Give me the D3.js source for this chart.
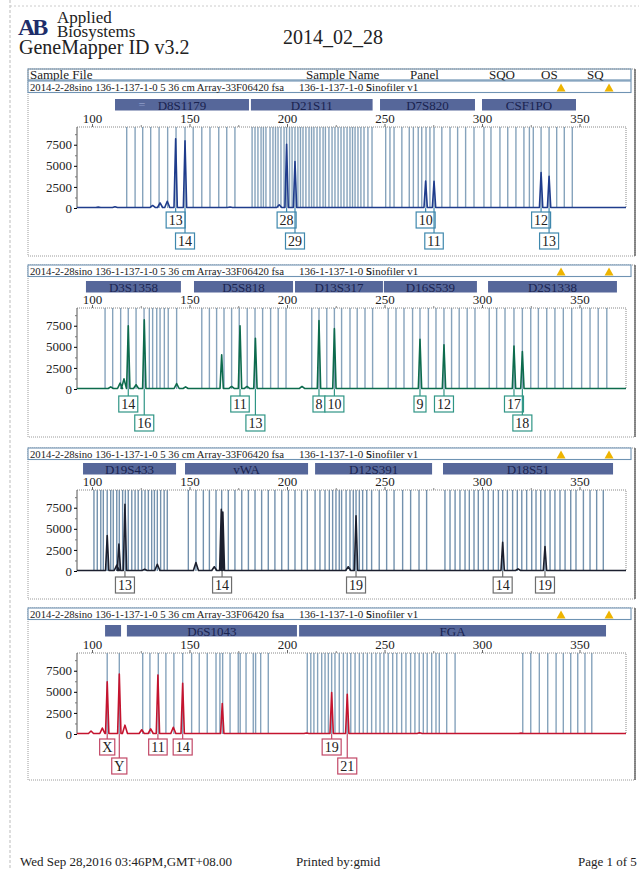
<!DOCTYPE html>
<html>
<head>
<meta charset="utf-8">
<script src="https://cdn.jsdelivr.net/npm/d3@7"></script>
<style>
  body { margin: 0; background: #fff; }
  svg text { font-family: "Liberation Serif", "DejaVu Serif", serif; }
</style>
</head>
<body>
<svg id="page" width="639" height="870"></svg>
<script>
// ---- data ----
var xTicks = [100, 150, 200, 250, 300, 350];
var xMinor = [125, 175, 225, 275, 325];
var yTicks = [0, 2500, 5000, 7500];
var yMinor = [1250, 3750, 6250, 8750];

var headerCols = ["Sample File", "Sample Name", "Panel", "SQO", "OS", "SQ"];
var sampleFile = "2014-2-28sino 136-1-137-1-0 5 36 cm Array-33F06420 fsa";
var sampleName = "136-1-137-1-0 5";
var panelName = "Sinofiler v1";

// panel 1 (blue)
var p1Loci = ["D8S1179", "D21S11", "D7S820", "CSF1PO"];
var p1Ranges = [[111.8, 180.5], [181.5, 243.9], [247.7, 296.4], [300.0, 348.2]];
var p1Bins = [117.8,122.1,126.0,130.1,134.4,138.8,143.1,147.7,151.9,156.3,160.5,165.0,169.1,173.3,
  182.1,183.6,185.1,186.7,187.9,189.2,191.3,192.8,194.1,195.4,196.9,198.5,199.8,201.3,202.6,204.1,205.6,206.9,
  208.2,209.7,211.3,212.6,213.8,215.4,216.9,218.5,219.7,221.5,223.1,224.6,226.2,227.7,229.2,230.8,232.3,233.6,
  234.9,236.4,237.9,239.5,241.5,243.6,
  250.6,252.8,254.9,258.9,262.7,264.8,267.3,269.1,271.3,273.3,275.4,279.4,283.6,287.5,291.6,295.9,
  301.0,304.6,309.2,313.2,317.4,321.5,324.3,326.3,330.3,334.4,338.3,342.2,346.3];
var p1Peaks = [[103.2,100],[111.8,150],[131.1,300],[134.9,600],[138.6,800],[142.9,8200],[147.7,7950],
  [170.8,120],[196.0,380],[199.8,7550],[204.1,5500],[271.1,3200],[275.4,3150],[330.3,4200],[334.4,3750]];
var p1Calls = [["13",142.9,1],["14",147.7,2],["28",199.8,1],["29",204.1,2],["10",271.1,1],["11",275.4,2],["12",330.3,1],["13",334.4,2]];

// panel 2 (green)
var p2Loci = ["D3S1358", "D5S818", "D13S317", "D16S539", "D2S1338"];
var p2Ranges = [[96.9, 145.6], [152.3, 203.1], [204.1, 249.2], [249.7, 297.4], [303.1, 369.2]];
var p2Bins = [106.7,110.6,114.7,118.6,122.6,126.7,129.4,131.1,133.2,134.9,137.1,139.1,143.4,
  156.3,160.2,163.9,167.7,171.6,175.5,179.6,183.6,187.5,191.6,195.5,199.5,
  212.7,216.4,220.4,224.3,228.0,232.3,236.0,240.0,243.9,
  251.9,255.9,260.0,264.4,268.2,272.5,276.4,280.5,284.4,288.3,292.4,296.4,
  303.7,307.5,311.8,316.4,320.7,325.0,328.9,333.2,337.4,341.7,346.0,351.1,355.4,359.6,364.0];
var p2Peaks = [[109.6,250],[114.4,700],[116.4,1200],[118.6,7500],[122.6,500],[126.8,8200],[143.4,650],[148.0,250],
  [166.5,4050],[171.6,300],[175.9,7500],[179.5,300],[183.8,6000],[207.7,300],[216.4,8100],[224.3,7150],
  [268.2,5900],[280.5,5250],[316.4,5100],[320.7,4450]];
var p2Calls = [["14",118.6,1],["16",126.8,2],["11",175.9,1],["13",183.8,2],["8",216.4,1],["10",224.3,1],["9",268.2,1],["12",280.5,1],["17",316.4,1],["18",320.7,2]];

// panel 3 (black)
var p3Loci = ["D19S433", "vWA", "D12S391", "D18S51"];
var p3Ranges = [[95.4, 143.1], [147.7, 210.8], [214.4, 274.4], [280.0, 367.2]];
var p3Bins = [101.0,102.7,104.5,105.8,107.8,109.6,110.9,112.7,114.0,115.7,117.1,118.6,120.4,122.1,123.7,125.5,127.2,128.9,130.6,132.0,133.5,135.2,137.0,138.6,
  149.4,153.3,157.1,160.2,163.6,166.5,169.9,173.3,176.8,180.2,183.6,187.0,190.4,193.8,197.3,200.7,204.1,207.5,210.4,
  214.4,216.9,219.5,221.7,223.4,225.1,226.8,228.0,230.3,232.3,234.0,235.4,237.1,238.8,240.9,243.4,247.3,251.1,254.9,259.3,263.4,267.7,271.6,
  281.0,283.6,286.2,288.7,291.3,293.5,295.9,298.1,300.7,303.2,305.8,308.4,310.6,313.0,315.7,318.1,320.4,322.9,325.5,327.7,330.1,332.3,
  334.9,337.4,340.0,342.6,345.5,348.2,352.0,355.4,358.8,362.2];
var p3Peaks = [[107.8,4200],[112.7,700],[113.8,3200],[116.9,7900],[127.0,200],[133.5,800],[153.3,1000],[162.7,500],
  [166.3,7300],[167.1,7000],[231.4,500],[235.4,6550],[310.6,3400],[318.5,250],[332.3,2900]];
var p3Calls = [["13",116.9,1],["14",166.7,1],["19",235.4,1],["14",310.6,1],["19",332.3,1]];

// panel 4 (red)
var p4Loci = ["", "D6S1043", "FGA"];
var p4Ranges = [[106.7, 114.9], [117.9, 205.1], [206.2, 363.6]];
var p4Bins = [107.8,114.0,
  126.0,129.7,134.0,137.9,142.0,146.5,151.1,155.0,159.1,163.6,165.6,167.0,170.8,175.0,176.0,179.0,182.7,183.9,186.5,190.4,
  210.4,212.2,213.8,215.7,217.8,219.5,221.2,222.9,224.6,226.8,228.9,230.9,232.7,234.9,237.1,239.1,241.2,243.4,245.6,247.7,
  249.7,251.9,254.2,256.3,258.8,261.0,263.4,265.6,267.8,269.9,271.9,274.2,276.4,278.1,281.9,286.2,
  320.9,325.0,329.4,333.7,338.0,341.7,345.5,349.1,352.8,356.3];
var p4Peaks = [[99.5,350],[105.3,700],[107.8,6200],[114.0,7100],[116.9,1050],[125.5,500],[130.1,600],[133.8,7000],
  [141.7,800],[146.5,6000],[166.8,3600],[210.0,120],[222.9,4900],[230.9,4700],[268.0,150],[320.0,100]];
var p4Calls = [["X",107.8,1],["Y",114.0,2],["11",133.8,1],["14",146.5,1],["19",222.9,1],["21",230.9,2]];

// ---- layout ----
var svg = d3.select("#page");
var serif = "'Liberation Serif', 'DejaVu Serif', serif";
var plotLeft = 77, plotRight = 626;
var x = d3.scaleLinear().domain([100, 350]).range([92, 579.5]);

var panels = [
  {frameTop: 69, title: 81, box: 99, base: 208, row1: 212, row2: 233, bottom: 256,
   trace: "#1f3c8c", call: "#3f88ad", bin: "#86a3bc",
   loci: p1Loci, ranges: p1Ranges, bins: p1Bins, peaks: p1Peaks, calls: p1Calls},
  {frameTop: 265, title: 265, box: 281, base: 389, row1: 396, row2: 415, bottom: 437,
   trace: "#0d6b4d", call: "#2f9585", bin: "#86a3bc",
   loci: p2Loci, ranges: p2Ranges, bins: p2Bins, peaks: p2Peaks, calls: p2Calls},
  {frameTop: 448, title: 448, box: 463, base: 571, row1: 577, row2: 596, bottom: 599,
   trace: "#1b1f2e", call: "#6d6d6d", bin: "#7391ad",
   loci: p3Loci, ranges: p3Ranges, bins: p3Bins, peaks: p3Peaks, calls: p3Calls},
  {frameTop: 608, title: 608, box: 625, base: 734, row1: 739, row2: 758, bottom: 780,
   trace: "#c4142f", call: "#c24867", bin: "#86a3bc",
   loci: p4Loci, ranges: p4Ranges, bins: p4Bins, peaks: p4Peaks, calls: p4Calls}
];

// scan edge
svg.append("line").attr("x1", 10).attr("x2", 10).attr("y1", 0).attr("y2", 870)
  .attr("stroke", "#bbb").attr("stroke-width", 1).attr("stroke-dasharray", "3,2");
svg.append("line").attr("x1", 10).attr("x2", 639).attr("y1", 6).attr("y2", 6)
  .attr("stroke", "#ccc").attr("stroke-dasharray", "2,2");

// logo + title
svg.append("text").attr("x", 18).attr("y", 35).attr("font-size", 24).attr("font-weight", "bold")
  .attr("font-family", "'DejaVu Sans', sans-serif").attr("fill", "#1e2d6a").attr("letter-spacing", -3).text("AB");
svg.append("text").attr("x", 57).attr("y", 23).attr("font-size", 17).attr("fill", "#222").text("Applied");
svg.append("text").attr("x", 57).attr("y", 37).attr("font-size", 17).attr("fill", "#222").text("Biosystems");
svg.append("text").attr("x", 19).attr("y", 54).attr("font-size", 20).attr("fill", "#222").text("GeneMapper ID v3.2");
svg.append("text").attr("x", 283).attr("y", 44).attr("font-size", 20).attr("fill", "#222").text("2014_02_28");

// sample table header row
svg.append("rect").attr("x", 28).attr("y", 69).attr("width", 603).attr("height", 11)
  .attr("fill", "#fff").attr("stroke", "#6f93b3").attr("stroke-width", 1.2);
var headerX = [30, 306, 410, 489, 541, 587];
headerCols.forEach(function(c, i) {
  svg.append("text").attr("x", headerX[i]).attr("y", 79).attr("font-size", 13).attr("fill", "#222").text(c);
});

function triangle(g, cx, cy) {
  g.append("path").attr("d", "M" + (cx - 4.5) + "," + (cy + 4) + "L" + cx + "," + (cy - 4) + "L" + (cx + 4.5) + "," + (cy + 4) + "Z")
    .attr("fill", "#eeb400");
}

function drawPanel(p, pi) {
  var g = svg.append("g");
  var top = p.base - 81;
  var y = d3.scaleLinear().domain([0, 9600]).range([p.base, top]);

  // dotted frame
  g.append("rect").attr("x", 28).attr("y", p.frameTop).attr("width", 607).attr("height", p.bottom - p.frameTop)
    .attr("fill", "none").attr("stroke", "#9a9a9a").attr("stroke-dasharray", "1,1");
  g.append("line").attr("x1", 635).attr("x2", 635).attr("y1", p.frameTop).attr("y2", p.bottom)
    .attr("stroke", "#555").attr("stroke-width", 1.3);

  // title row
  g.append("rect").attr("x", 28).attr("y", p.title).attr("width", 603).attr("height", 11.5)
    .attr("fill", "#fff").attr("stroke", "#6f93b3").attr("stroke-width", 1.1);
  g.append("text").attr("x", 30).attr("y", p.title + 9.5).attr("font-size", 11).attr("fill", "#222")
    .attr("textLength", 254).attr("lengthAdjust", "spacingAndGlyphs").text(sampleFile);
  g.append("text").attr("x", 299).attr("y", p.title + 9.5).attr("font-size", 11).attr("fill", "#222").text(sampleName);
  g.append("text").attr("x", 366).attr("y", p.title + 9.5).attr("font-size", 11).attr("fill", "#222").text(panelName);
  triangle(g, 561, p.title + 6.5);
  triangle(g, 609, p.title + 6.5);

  // locus header boxes
  p.loci.forEach(function(name, i) {
    var r = p.ranges[i];
    g.append("rect").attr("x", x(r[0])).attr("y", p.box).attr("width", x(r[1]) - x(r[0])).attr("height", 11.5)
      .attr("fill", "#56679a");
    g.append("text").attr("x", (x(r[0]) + x(r[1])) / 2).attr("y", p.box + 10.5).attr("text-anchor", "middle")
      .attr("font-size", 13).attr("fill", "#1a2350").text(name);
  });
  if (pi === 0) {
    // edit marker shown in the first locus box
    g.append("text").attr("x", x(p1Ranges[0][0]) + 27).attr("y", p.box + 10).attr("text-anchor", "middle")
      .attr("font-size", 12).attr("fill", "#8e9cc8").text("=");
  }

  // bins
  g.selectAll(".bin").data(p.bins).enter().append("line")
    .attr("x1", function(d) { return x(d); }).attr("x2", function(d) { return x(d); })
    .attr("y1", top).attr("y2", p.base)
    .attr("stroke", p.bin).attr("stroke-width", 1.4);

  // plot border (top + right dotted)
  g.append("path").attr("d", "M" + plotLeft + "," + top + "H" + plotRight + "V" + p.base)
    .attr("fill", "none").attr("stroke", "#888").attr("stroke-dasharray", "1,1");

  // x axis at top
  var xa = g.append("g").attr("transform", "translate(0," + top + ")")
    .call(d3.axisTop(x).tickValues(xTicks).tickSize(3).tickPadding(1).tickFormat(d3.format("d")))
    .attr("font-family", serif).attr("font-size", 13);
  xa.select(".domain").remove();
  xa.selectAll("text").attr("fill", "#222");
  xa.selectAll("line").attr("stroke", "#666");
  g.append("g").attr("transform", "translate(0," + top + ")")
    .call(d3.axisTop(x).tickValues(xMinor).tickSize(2).tickFormat(""))
    .call(function(a) { a.select(".domain").remove(); a.selectAll("line").attr("stroke", "#888"); });

  // y axis
  var ya = g.append("g").attr("transform", "translate(" + plotLeft + ",0)")
    .call(d3.axisLeft(y).tickValues(yTicks).tickSize(3).tickPadding(2).tickFormat(d3.format("d")))
    .attr("font-family", serif).attr("font-size", 13);
  ya.select(".domain").attr("d", "M0," + top + "V" + p.base).attr("stroke", "#555");
  ya.selectAll("text").attr("fill", "#222");
  g.append("g").attr("transform", "translate(" + plotLeft + ",0)")
    .call(d3.axisLeft(y).tickValues(yMinor).tickSize(2).tickFormat(""))
    .call(function(a) { a.select(".domain").remove(); a.selectAll("line").attr("stroke", "#777"); });

  // trace
  var pts = [[x.invert(plotLeft), 60]];
  p.peaks.slice().sort(function(a, b) { return a[0] - b[0]; }).forEach(function(pk) {
    var w = pk[1] < 1500 ? 1.3 : 0.85;
    pts.push([pk[0] - w, 60], [pk[0], pk[1]], [pk[0] + w, 60]);
  });
  pts.push([x.invert(plotRight), 60]);
  var line = d3.line().x(function(d) { return x(d[0]); }).y(function(d) { return y(d[1]); });
  g.append("path").attr("d", line(pts)).attr("fill", "none").attr("stroke", p.trace)
    .attr("stroke-width", 1.6).attr("stroke-linejoin", "round");

  // allele calls
  p.calls.forEach(function(c) {
    var cx = x(c[1]);
    var ry = c[2] === 1 ? p.row1 : p.row2;
    g.append("line").attr("x1", cx).attr("x2", cx).attr("y1", p.base).attr("y2", ry)
      .attr("stroke", p.call).attr("stroke-width", 1.2);
    var t = g.append("text").attr("x", cx).attr("y", ry + 13).attr("text-anchor", "middle")
      .attr("font-size", 14).attr("fill", "#222").text(c[0]);
    var tw = t.node().getComputedTextLength();
    g.insert("rect", "text").attr("x", cx - tw / 2 - 2.5).attr("y", ry).attr("width", tw + 5).attr("height", 16)
      .attr("fill", "#fff").attr("stroke", p.call).attr("stroke-width", 1.2);
  });
}

panels.forEach(drawPanel);

// footer
svg.append("text").attr("x", 20).attr("y", 866).attr("font-size", 13).attr("fill", "#222").text("Wed Sep 28,2016 03:46PM,GMT+08.00");
svg.append("text").attr("x", 296).attr("y", 866).attr("font-size", 13).attr("fill", "#222").text("Printed by:gmid");
svg.append("text").attr("x", 578).attr("y", 866).attr("font-size", 13).attr("fill", "#222").text("Page 1 of 5");
</script>
</body>
</html>
